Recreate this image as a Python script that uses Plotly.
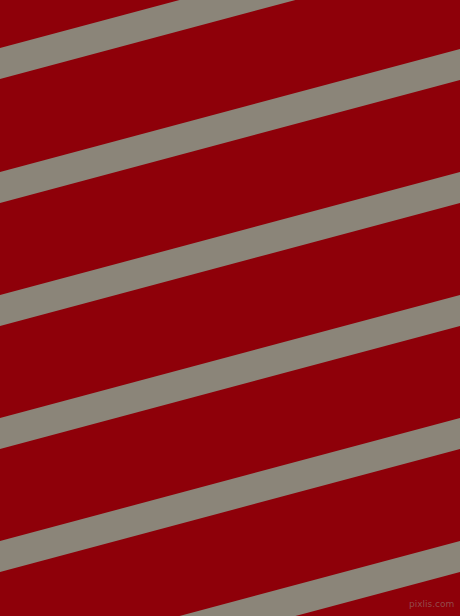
import plotly.graph_objects as go

left_top = [48, 172, 295, 418, 541, 664]    # top edge at x = 0
right_top = [-75, 49, 172, 295, 418, 541]   # top edge at x = 460
band = 31                                   # vertical thickness of a stripe

W, H = 460, 616
red = "#8e0009"
grey = "#8b8579"

fig = go.Figure()
for lt, rt in zip(left_top, right_top):
    fig.add_trace(go.Scatter(
        x=[0, W, W, 0, 0],
        y=[lt, rt, rt + band, lt + band, lt],
        mode="lines",
        fill="toself",
        fillcolor=grey,
        line=dict(width=0, color=grey),
        hoverinfo="skip",
        showlegend=False,
    ))

fig.add_annotation(
    x=W - 4, y=H - 5, xref="x", yref="y",
    text="pixlis.com", showarrow=False,
    xanchor="right", yanchor="bottom",
    font=dict(family="DejaVu Sans", size=9, color="rgba(150,110,105,0.7)"),
)

fig.update_xaxes(range=[0, W], visible=False, fixedrange=True)
fig.update_yaxes(range=[H, 0], visible=False, fixedrange=True)
fig.update_layout(
    width=W, height=H,
    margin=dict(l=0, r=0, t=0, b=0),
    paper_bgcolor=red, plot_bgcolor=red,
)

# page has a default 8px body margin, drop it so the figure fills the window
fig.write_html(
    "out.html",
    config={"displayModeBar": False},
    post_script="document.body.style.margin='0';document.body.style.overflow='hidden';",
)
